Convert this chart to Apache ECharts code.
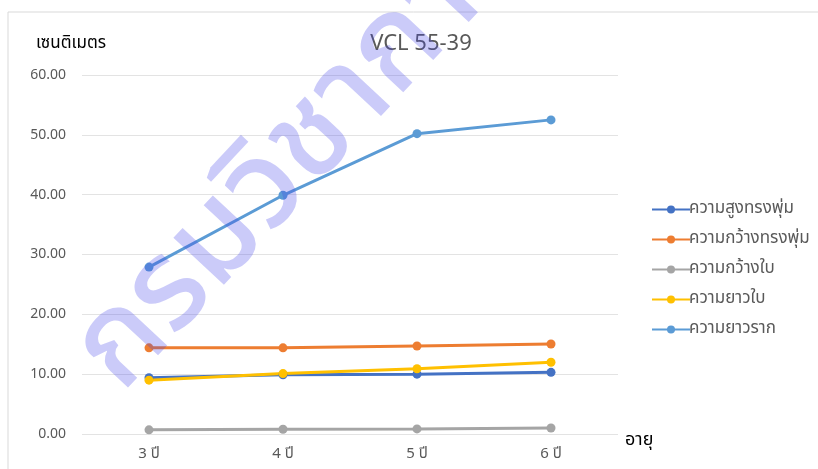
<!DOCTYPE html>
<html><head><meta charset="utf-8">
<script src="https://cdn.jsdelivr.net/npm/echarts@6/dist/echarts.min.js"></script>
<style>html,body{margin:0;padding:0;background:#fff}#c{width:818px;height:469px}</style>
</head><body><div id="c"></div>
<script>
const categories = ['3 ปี', '4 ปี', '5 ปี', '6 ปี'];
const seriesNames = ['ความสูงทรงพุ่ม', 'ความกว้างทรงพุ่ม', 'ความกว้างใบ', 'ความยาวใบ', 'ความยาวราก'];
const height = [9.4, 9.9, 10.0, 10.3];
const canopyWidth = [14.4, 14.4, 14.7, 15.05];
const leafWidth = [0.7, 0.8, 0.85, 1.0];
const leafLength = [9.0, 10.1, 10.9, 12.0];
const rootLength = [27.9, 39.9, 50.2, 52.5];
const colors = ['#4472C4', '#ED7D31', '#A5A5A5', '#FFC000', '#5B9BD5'];
const seriesData = [height, canopyWidth, leafWidth, leafLength, rootLength];

const chart = echarts.init(document.getElementById('c'));
const font = '"Noto Sans", "Noto Sans Thai", sans-serif';
const thaiFont = '"Noto Sans Thai", "Noto Sans Thai UI", "Noto Sans", sans-serif';
chart.setOption({
  animation: false,
  color: colors,
  title: { text: 'VCL 55-39', left: 416, top: 28, textAlign: 'center',
    textStyle: { fontSize: 22, fontWeight: 'normal', color: '#595959', fontFamily: font } },
  legend: {
    orient: 'vertical', left: 646, top: 196, itemGap: 13, itemWidth: 38, itemHeight: 10,
    textStyle: { fontSize: 17, color: '#595959', fontFamily: thaiFont, padding: [0,0,0,-6] },
    data: seriesNames
  },
  grid: { left: 82, right: 200, top: 75, bottom: 35, containLabel: false },
  xAxis: {
    type: 'category', data: categories, boundaryGap: true,
    name: 'อายุ', nameLocation: 'end', nameGap: 7,
    nameTextStyle: { fontSize: 18, color: '#000', fontFamily: thaiFont, verticalAlign: 'top', padding: [-2,0,0,0] },
    axisLine: { show: false }, axisTick: { show: false },
    axisLabel: { fontSize: 15, color: '#595959', margin: 13, fontFamily: thaiFont }
  },
  yAxis: {
    type: 'value', min: 0, max: 60, interval: 10,
    name: 'เซนติเมตร', nameLocation: 'end', nameGap: 22,
    nameTextStyle: { fontSize: 17, color: '#000', fontFamily: thaiFont, align: 'left', padding: [0,0,0,-46] },
    axisLine: { show: false }, axisTick: { show: false },
    axisLabel: { fontSize: 14, color: '#595959', margin: 16, fontFamily: font,
      formatter: v => v.toFixed(2) },
    splitLine: { lineStyle: { color: '#e3e3e3', width: 1 } }
  },
  series: seriesNames.map((n, i) => ({
    name: n, type: 'line', data: seriesData[i],
    symbol: 'circle', symbolSize: 9,
    lineStyle: { width: 3, color: colors[i] },
    itemStyle: { color: colors[i] }
  })),
  graphic: [
    { type: 'rect', shape: { x: 8, y: 12, width: 900, height: 600 }, silent: true,
      style: { fill: 'none', stroke: '#d9d9d9', lineWidth: 1 }, z: -1 },
    { type: 'text', x: 103, y: 377, rotation: 47 * Math.PI / 180, z: 100, silent: true,
      style: { text: 'กรมวิชาการเกษตร', fontSize: 126, fontWeight: 500, fontFamily: thaiFont,
        fill: 'rgba(70,70,235,0.28)', textAlign: 'left', textVerticalAlign: 'middle' } }
  ]
});
</script></body></html>
